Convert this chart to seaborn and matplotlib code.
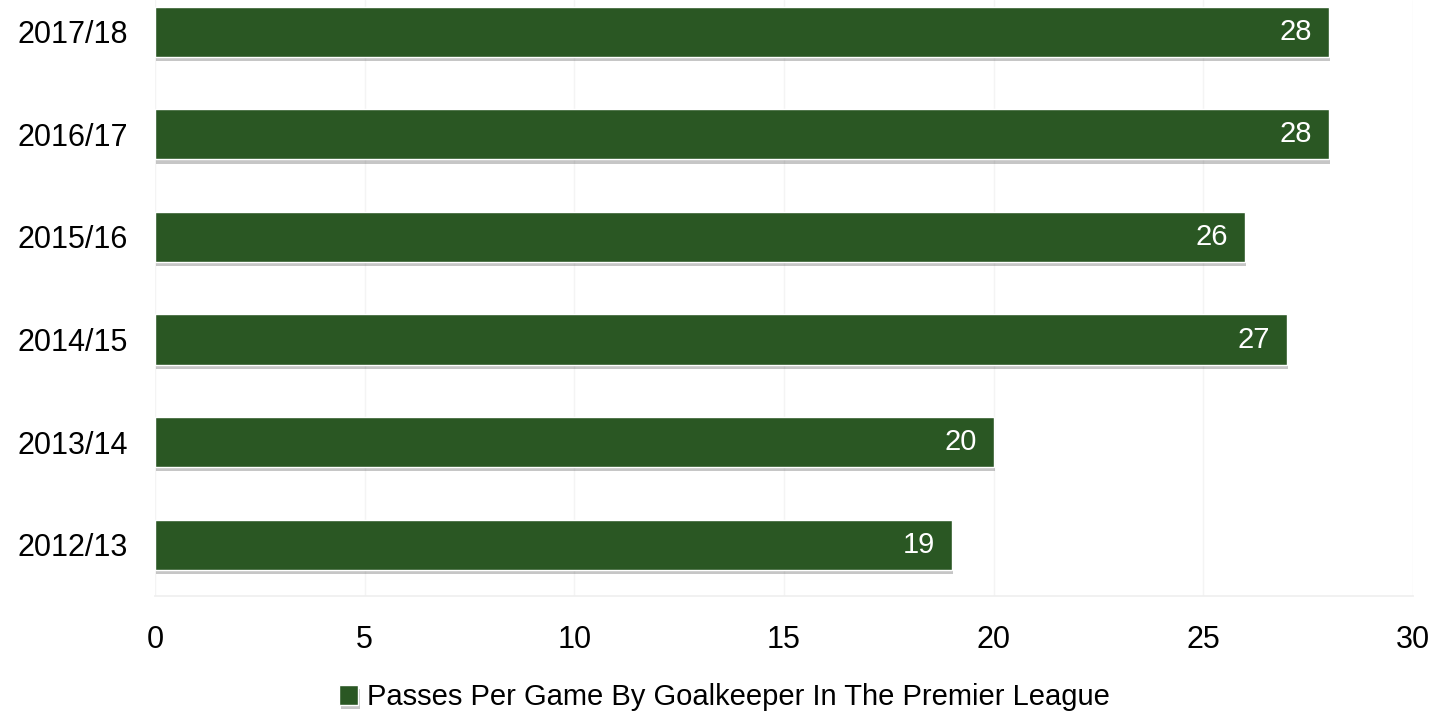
import pandas as pd
import seaborn as sns
import matplotlib.pyplot as plt
import matplotlib.patheffects as pe

# Data
seasons = ["2012/13", "2013/14", "2014/15", "2015/16", "2016/17", "2017/18"]
passes = [19, 20, 27, 26, 28, 28]
series_name = "Passes Per Game By Goalkeeper In The Premier League"
bar_color = "#2a5723"

df = pd.DataFrame({"season": seasons, "passes": passes})

sns.set_theme(style="white")
plt.rcParams["font.family"] = ["Liberation Sans", "DejaVu Sans"]
plt.rcParams["text.color"] = "black"
plt.rcParams["xtick.color"] = "black"
plt.rcParams["ytick.color"] = "black"

fig = plt.figure(figsize=(14.49, 7.18), dpi=100)
ax = fig.add_axes([0.107, 0.17, 0.868, 0.83])

sns.barplot(data=df, x="passes", y="season", order=seasons[::-1],
            color=bar_color, saturation=1, width=0.49, ax=ax,
            label=series_name)

# soft drop shadow under each bar
for bar in ax.patches:
    bar.set_path_effects([
        pe.SimplePatchShadow(offset=(1, -3), shadow_rgbFace="#444444", alpha=0.3),
        pe.Normal(),
    ])

texts = ax.bar_label(ax.containers[0], labels=[str(v) for v in passes[::-1]],
                     padding=-12, color="white", fontsize=21)
for t in texts:
    t.set_ha("right")

ax.set_xlim(0, 30)
ax.set_ylim(5.5, -0.31)
ax.set_xticks(range(0, 31, 5))
ax.set_xlabel("")
ax.set_ylabel("")
ax.tick_params(axis="x", labelsize=22, length=0, pad=21, labelcolor="black")
ax.tick_params(axis="y", labelsize=22, length=0, pad=19.5, labelcolor="black")

ax.grid(axis="x", color="#f4f4f4", linewidth=1)
ax.set_axisbelow(True)
for side in ["top", "right", "left"]:
    ax.spines[side].set_visible(False)
ax.spines["bottom"].set_color("#efefef")

if ax.legend_:
    ax.legend_.remove()
handles, labels = ax.get_legend_handles_labels()
fig.legend(handles, labels, loc="center", bbox_to_anchor=(0.5, 0.029),
           frameon=False, fontsize=21, handlelength=0.65, handleheight=0.65,
           handletextpad=0.3, borderpad=0, labelcolor="black")

fig.savefig("out.png", dpi=100)
